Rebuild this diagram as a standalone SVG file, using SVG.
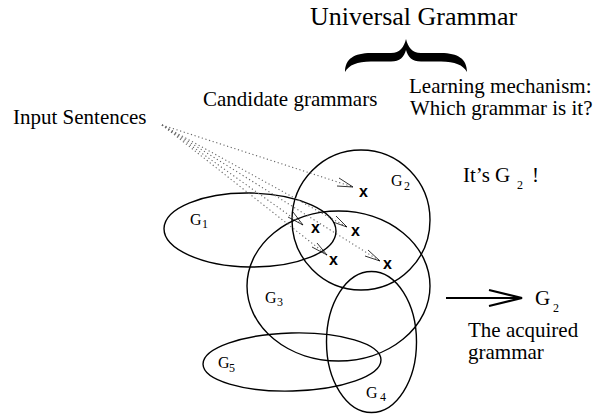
<svg xmlns="http://www.w3.org/2000/svg" width="598" height="415" viewBox="0 0 598 415">
<defs>
<style>
.t{font-family:"Liberation Serif","Times New Roman",serif;fill:#000}
.big{font-size:21px}
.g{font-size:16px}
.sub{font-size:12px}
.x{font-family:"Liberation Sans",Arial,sans-serif;font-size:16px;font-weight:bold;fill:#000}
.ell{fill:none;stroke:#000;stroke-width:1.4}
.dot{fill:none;stroke:#666;stroke-width:1.1;stroke-dasharray:1.2 2.6}
.ah{fill:none;stroke:#000;stroke-width:0.8}
</style>
</defs>
<rect width="598" height="415" fill="#fff"/>
<g id="title">
<text class="t" x="310" y="25" font-size="26">Universal Grammar</text>
<path d="M345,72 C345,59 354,53 371,53 L391,53 C400,53 404,47 406,39 C408,47 412,53 421,53 L441,53 C458,53 467,59 467,72 C463,65 455,61.5 441,61.5 L421,61.5 C412,61.5 408,57 406,50 C404,57 400,61.5 391,61.5 L371,61.5 C357,61.5 349,65 345,72 Z" fill="#000"/>
</g>
<g id="candidate"><text class="t big" x="203" y="106">Candidate grammars</text></g>
<g id="learning"><text class="t big" x="409" y="93">Learning mechanism:</text><text class="t big" x="410" y="115">Which grammar is it?</text></g>
<g id="input"><text class="t big" x="13" y="124">Input Sentences</text></g>
<g id="its"><text class="t big" x="463" y="182">It’s G</text><text class="t sub" x="517" y="189" font-size="14">2</text><text class="t big" x="532" y="182">!</text></g>
<g id="G1"><ellipse class="ell" cx="250" cy="230" rx="86" ry="37" transform="rotate(1 250 230)"/><text class="t g" x="190" y="225">G</text><text class="t sub" x="202" y="228">1</text></g>
<g id="G2"><ellipse class="ell" cx="361" cy="220" rx="69" ry="70"/><text class="t g" x="391" y="186">G</text><text class="t sub" x="404" y="190">2</text></g>
<g id="G3"><ellipse class="ell" cx="338.5" cy="286" rx="91.5" ry="75"/><text class="t g" x="265" y="303">G</text><text class="t sub" x="277" y="306">3</text></g>
<g id="G4"><ellipse class="ell" cx="371.5" cy="342" rx="45" ry="70.5"/><text class="t g" x="366" y="398">G</text><text class="t sub" x="380" y="401">4</text></g>
<g id="G5"><ellipse class="ell" cx="292" cy="362" rx="89" ry="29" transform="rotate(-1.5 292 362)"/><text class="t g" x="218" y="368">G</text><text class="t sub" x="229" y="372">5</text></g>
<g id="samples">
<text class="x" x="359" y="197">x</text>
<text class="x" x="311" y="233">x</text>
<text class="x" x="351" y="236">x</text>
<text class="x" x="329" y="265">x</text>
<text class="x" x="383" y="269">x</text>
</g>
<g id="connectors">
<path class="dot" d="M162,125 L353,187"/>
<path class="dot" d="M162,125 L303,225"/>
<path class="dot" d="M162,125 L347,227"/>
<path class="dot" d="M162,125 L327,255"/>
<path class="dot" d="M162,125 L380,261"/>
<path class="ah" d="M339,178 L353,187 L337,186"/>
<path class="ah" d="M293,212 L303,225 L288,217"/>
<path class="ah" d="M336,216 L347,227 L333,222"/>
<path class="ah" d="M317,243 L327,255 L312,247"/>
<path class="ah" d="M368,250 L380,261 L365,256"/>
<path d="M446,298 L522,298" stroke="#000" stroke-width="2.2" fill="none"/>
<path d="M489,290 L522,298 L489,306" stroke="#000" stroke-width="2.2" fill="none"/>
</g>
<g id="result"><text class="t big" x="535" y="305">G</text><text class="t sub" x="553" y="312" font-size="14">2</text><text class="t big" x="468" y="337">The acquired</text><text class="t big" x="468" y="359">grammar</text></g>
</svg>
